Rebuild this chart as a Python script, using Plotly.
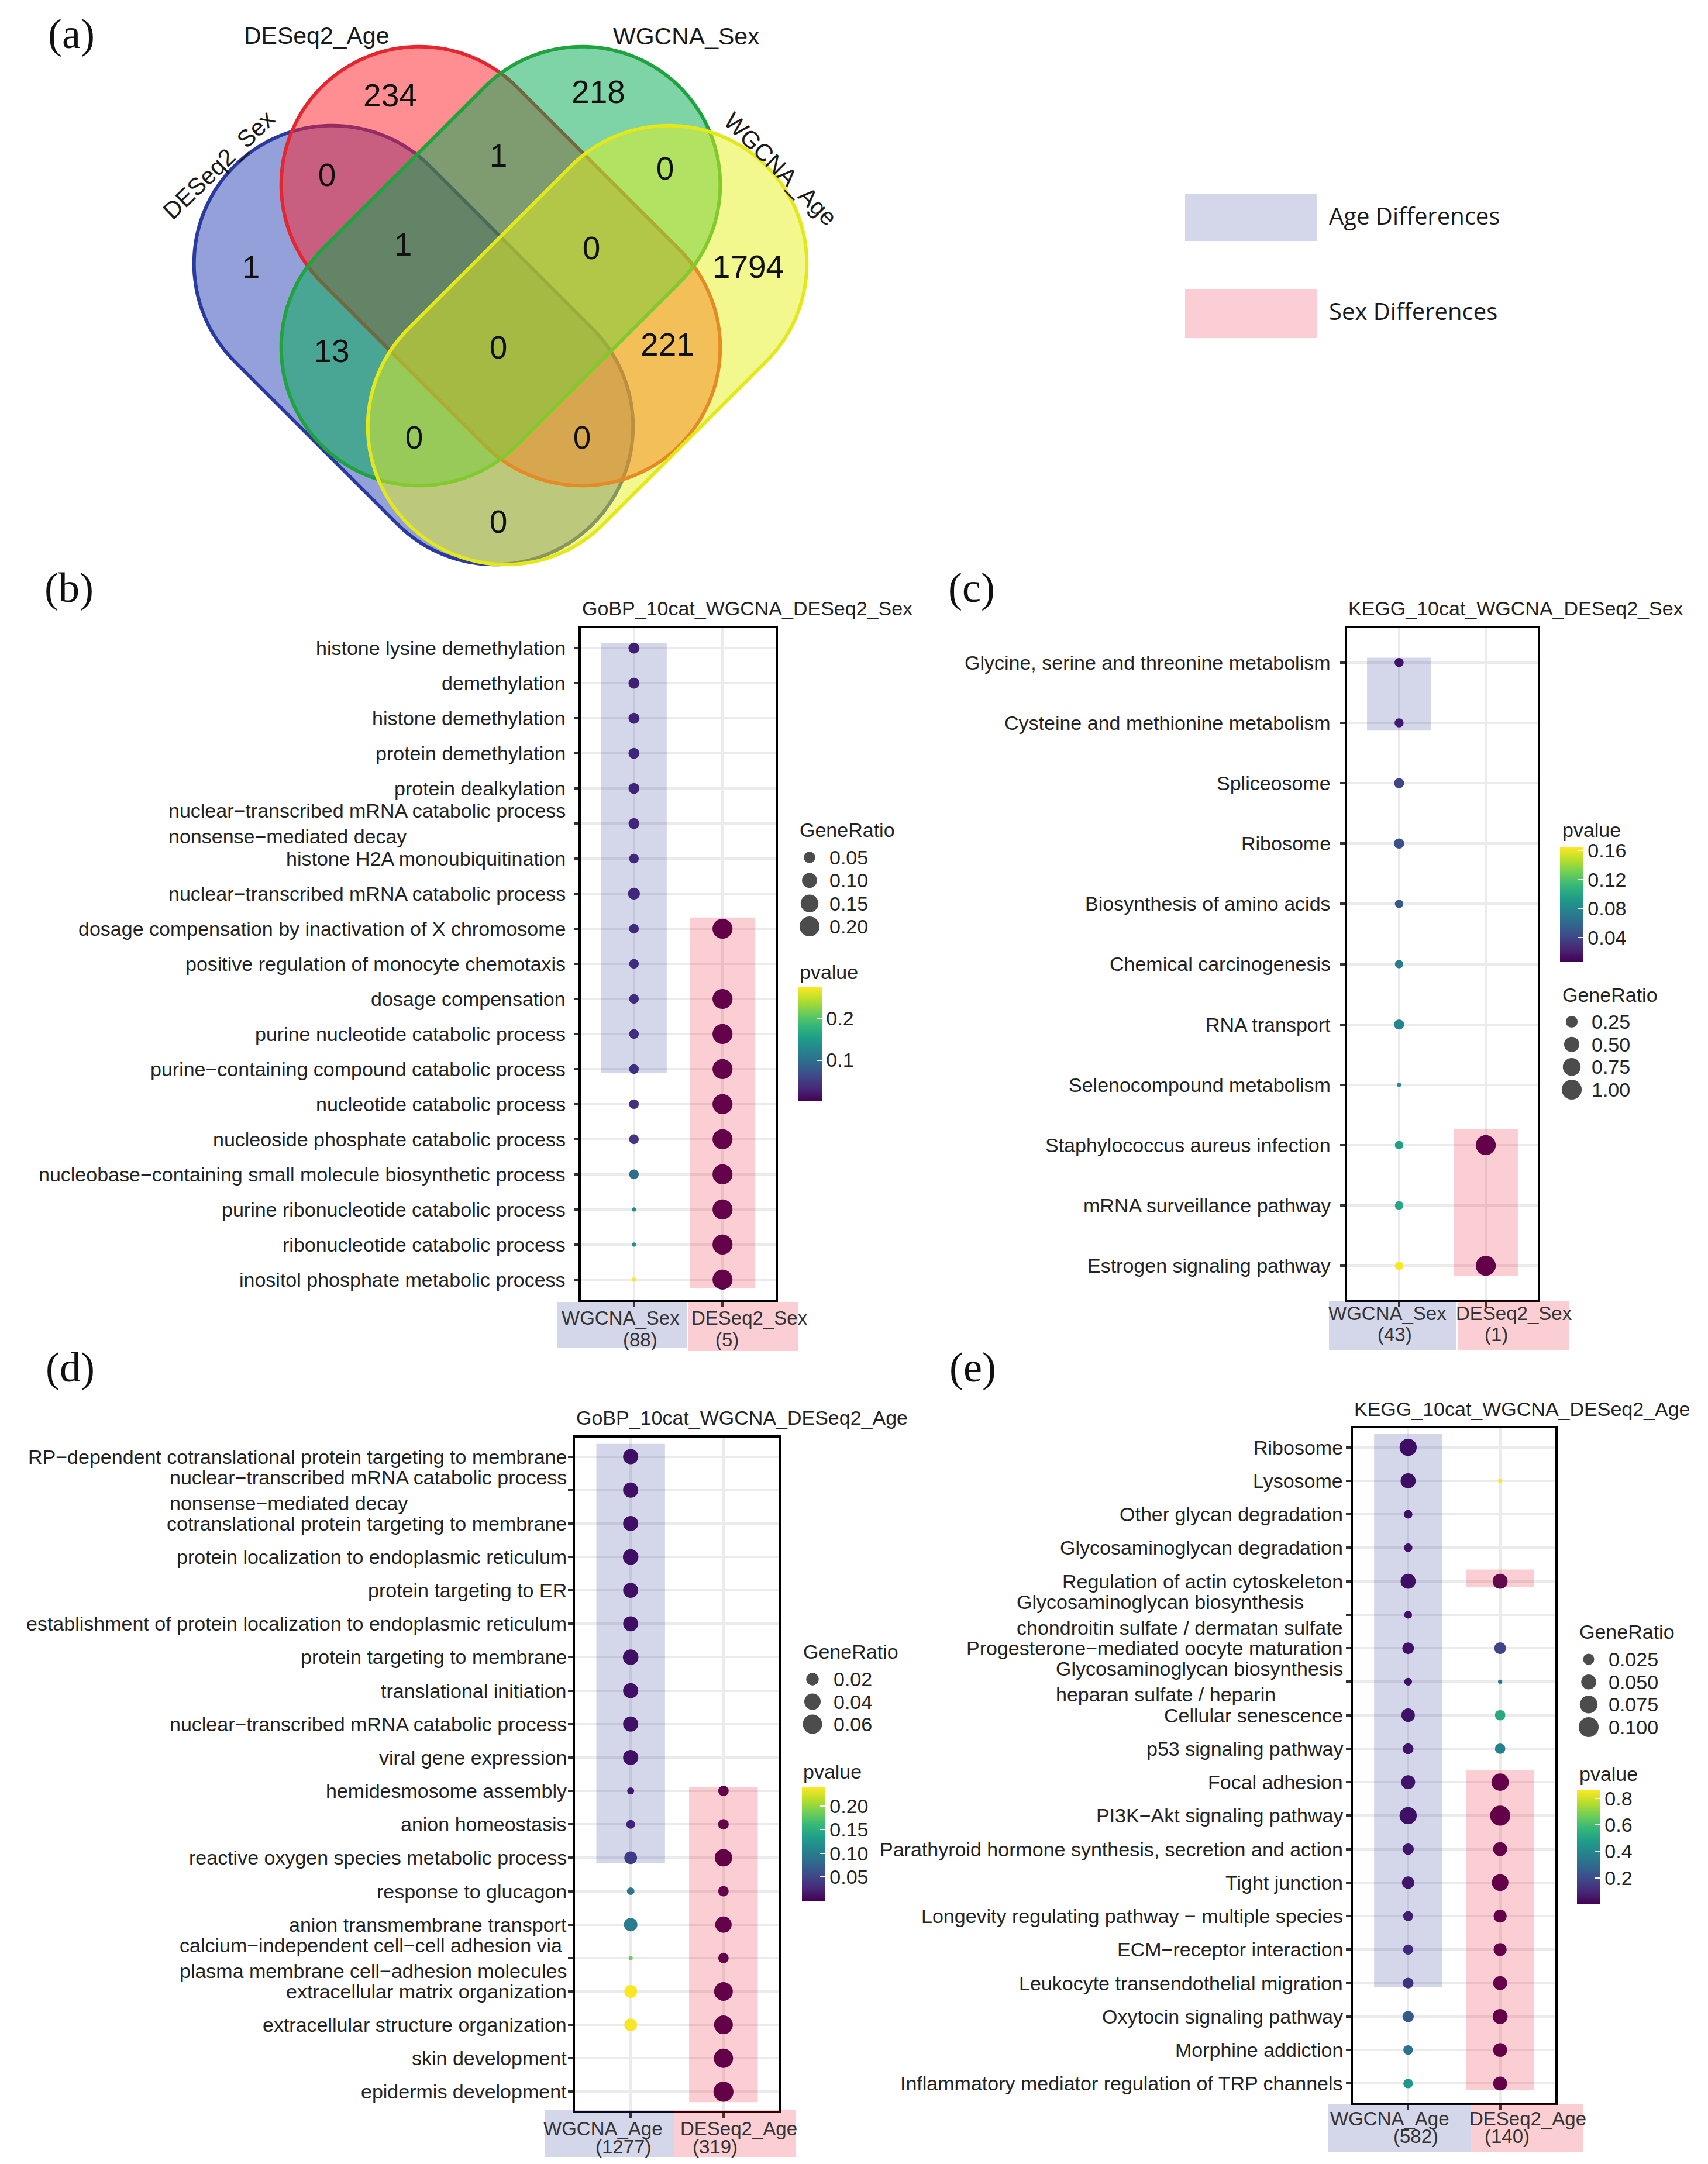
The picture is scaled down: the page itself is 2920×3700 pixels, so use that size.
import numpy as np
import plotly.graph_objects as go

W, H = 2920, 3700
SANS = "Liberation Sans"

# ======================= DATA =======================
# (a) Venn diagram
venn_set_names = ["DESeq2_Sex", "DESeq2_Age", "WGCNA_Sex", "WGCNA_Age"]
venn_regions = ["DA", "WS", "DS&DA", "DA&WS", "WS&WA", "DS", "DS&DA&WS", "DA&WS&WA",
                "WA", "DS&WS", "DS&DA&WS&WA", "DA&WA", "DS&WS&WA", "DS&DA&WA", "DS&WA"]
venn_counts = [234, 218, 0, 1, 0, 1, 1, 0, 1794, 13, 0, 221, 0, 0, 0]
legend_a_labels = ["Age Differences", "Sex Differences"]

# (b) GO BP, sex
b_title = "GoBP_10cat_WGCNA_DESeq2_Sex"
b_groups = ["WGCNA_Sex", "DESeq2_Sex"]
b_group_n = [88, 5]
b_terms = [
    "histone lysine demethylation", "demethylation", "histone demethylation",
    "protein demethylation", "protein dealkylation",
    "nuclear\u2212transcribed mRNA catabolic process<br>nonsense\u2212mediated decay",
    "histone H2A monoubiquitination", "nuclear\u2212transcribed mRNA catabolic process",
    "dosage compensation by inactivation of X chromosome",
    "positive regulation of monocyte chemotaxis", "dosage compensation",
    "purine nucleotide catabolic process", "purine\u2212containing compound catabolic process",
    "nucleotide catabolic process", "nucleoside phosphate catabolic process",
    "nucleobase\u2212containing small molecule biosynthetic process",
    "purine ribonucleotide catabolic process", "ribonucleotide catabolic process",
    "inositol phosphate metabolic process"]
b_wgcna_ratio = [0.0455, 0.0455, 0.0455, 0.0455, 0.0455, 0.0455, 0.0341, 0.0568, 0.0341, 0.0341,
                 0.0341, 0.0341, 0.0341, 0.0341, 0.0341, 0.0341, 0.0114, 0.0114, 0.0114]
b_wgcna_p = [0.020, 0.022, 0.024, 0.026, 0.026, 0.028, 0.030, 0.030, 0.032, 0.034,
             0.034, 0.036, 0.036, 0.040, 0.042, 0.100, 0.135, 0.140, 0.275]
b_deseq_ratio = [None] * 8 + [0.2, None] + [0.2] * 9
b_deseq_p = [None] * 8 + [0.0009, None, 0.0011, 0.0013, 0.0013, 0.0015, 0.0015, 0.0017,
                          0.0019, 0.0019, 0.0021]
b_bands = [("WGCNA_Sex", "histone lysine demethylation", "purine\u2212containing compound catabolic process"),
           ("DESeq2_Sex", "dosage compensation by inactivation of X chromosome", "inositol phosphate metabolic process")]
b_size_breaks = [0.05, 0.10, 0.15, 0.20]
b_size_labels = ["0.05", "0.10", "0.15", "0.20"]
b_p_ticks = [0.1, 0.2]
b_p_labels = ["0.1", "0.2"]

# (c) KEGG, sex
c_title = "KEGG_10cat_WGCNA_DESeq2_Sex"
c_groups = ["WGCNA_Sex", "DESeq2_Sex"]
c_group_n = [43, 1]
c_terms = ["Glycine, serine and threonine metabolism", "Cysteine and methionine metabolism",
           "Spliceosome", "Ribosome", "Biosynthesis of amino acids", "Chemical carcinogenesis",
           "RNA transport", "Selenocompound metabolism", "Staphylococcus aureus infection",
           "mRNA surveillance pathway", "Estrogen signaling pathway"]
c_wgcna_ratio = [0.116, 0.116, 0.163, 0.163, 0.093, 0.093, 0.163, 0.0233, 0.093, 0.093, 0.093]
c_wgcna_p = [0.012, 0.016, 0.040, 0.046, 0.050, 0.072, 0.078, 0.085, 0.095, 0.100, 0.164]
c_deseq_ratio = [None] * 8 + [1.0, None, 1.0]
c_deseq_p = [None] * 8 + [0.0070, None, 0.0072]
c_bands = [("WGCNA_Sex", "Glycine, serine and threonine metabolism", "Cysteine and methionine metabolism"),
           ("DESeq2_Sex", "Staphylococcus aureus infection", "Estrogen signaling pathway")]
c_size_breaks = [0.25, 0.50, 0.75, 1.00]
c_size_labels = ["0.25", "0.50", "0.75", "1.00"]
c_p_ticks = [0.04, 0.08, 0.12, 0.16]
c_p_labels = ["0.04", "0.08", "0.12", "0.16"]

# (d) GO BP, age
d_title = "GoBP_10cat_WGCNA_DESeq2_Age"
d_groups = ["WGCNA_Age", "DESeq2_Age"]
d_group_n = [1277, 319]
d_terms = [
    "RP\u2212dependent cotranslational protein targeting to membrane",
    "nuclear\u2212transcribed mRNA catabolic process<br>nonsense\u2212mediated decay",
    "cotranslational protein targeting to membrane",
    "protein localization to endoplasmic reticulum", "protein targeting to ER",
    "establishment of protein localization to endoplasmic reticulum",
    "protein targeting to membrane", "translational initiation",
    "nuclear\u2212transcribed mRNA catabolic process", "viral gene expression",
    "hemidesmosome assembly", "anion homeostasis", "reactive oxygen species metabolic process",
    "response to glucagon", "anion transmembrane transport",
    "calcium\u2212independent cell\u2212cell adhesion via<br>plasma membrane cell\u2212adhesion molecules",
    "extracellular matrix organization", "extracellular structure organization",
    "skin development", "epidermis development"]
d_wgcna_ratio = [0.033, 0.033, 0.033, 0.035, 0.032, 0.032, 0.035, 0.033, 0.033, 0.033,
                 0.0043, 0.0076, 0.021, 0.0052, 0.024, 0.0023, 0.021, 0.021, None, None]
d_wgcna_p = [0.004, 0.004, 0.004, 0.004, 0.004, 0.004, 0.004, 0.005, 0.005, 0.005,
             0.012, 0.020, 0.045, 0.095, 0.100, 0.185, 0.239, 0.236, None, None]
d_deseq_ratio = [None] * 10 + [0.0125, 0.0125, 0.047, 0.0125, 0.040, 0.0125, 0.056, 0.056, 0.060, 0.066]
d_deseq_p = [None] * 10 + [0.0010, 0.0012, 0.0004, 0.0015, 0.0005, 0.0016, 0.0002, 0.0002, 0.0001, 0.0001]
d_bands = [("WGCNA_Age", "RP\u2212dependent cotranslational protein targeting to membrane",
            "reactive oxygen species metabolic process"),
           ("DESeq2_Age", "hemidesmosome assembly", "epidermis development")]
d_size_breaks = [0.02, 0.04, 0.06]
d_size_labels = ["0.02", "0.04", "0.06"]
d_p_ticks = [0.05, 0.10, 0.15, 0.20]
d_p_labels = ["0.05", "0.10", "0.15", "0.20"]

# (e) KEGG, age
e_title = "KEGG_10cat_WGCNA_DESeq2_Age"
e_groups = ["WGCNA_Age", "DESeq2_Age"]
e_group_n = [582, 140]
e_terms = ["Ribosome", "Lysosome", "Other glycan degradation", "Glycosaminoglycan degradation",
           "Regulation of actin cytoskeleton",
           "Glycosaminoglycan biosynthesis<br>chondroitin sulfate / dermatan sulfate",
           "Progesterone\u2212mediated oocyte maturation",
           "Glycosaminoglycan biosynthesis<br>heparan sulfate / heparin",
           "Cellular senescence", "p53 signaling pathway", "Focal adhesion",
           "PI3K\u2212Akt signaling pathway",
           "Parathyroid hormone synthesis, secretion and action", "Tight junction",
           "Longevity regulating pathway \u2212 multiple species", "ECM\u2212receptor interaction",
           "Leukocyte transendothelial migration", "Oxytocin signaling pathway",
           "Morphine addiction", "Inflammatory mediator regulation of TRP channels"]
e_wgcna_ratio = [0.069, 0.051, 0.014, 0.014, 0.051, 0.012, 0.028, 0.012, 0.039, 0.023,
                 0.043, 0.070, 0.026, 0.032, 0.020, 0.020, 0.023, 0.026, 0.018, 0.018]
e_wgcna_p = [0.005, 0.010, 0.020, 0.020, 0.015, 0.020, 0.025, 0.020, 0.025, 0.030,
             0.030, 0.020, 0.035, 0.035, 0.060, 0.100, 0.130, 0.240, 0.330, 0.450]
e_deseq_ratio = [None, 0.0071, None, None, 0.050, None, 0.0286, 0.0071, 0.0214, 0.0214,
                 0.0714, 0.100, 0.0429, 0.0643, 0.0357, 0.0357, 0.0429, 0.050, 0.0429, 0.0429]
e_deseq_p = [None, 0.86, None, None, 0.020, None, 0.180, 0.330, 0.520, 0.380,
             0.002, 0.001, 0.003, 0.002, 0.004, 0.004, 0.003, 0.002, 0.003, 0.003]
e_bands = [("WGCNA_Age", "Ribosome", "Leukocyte transendothelial migration"),
           ("DESeq2_Age", "Regulation of actin cytoskeleton", "Regulation of actin cytoskeleton"),
           ("DESeq2_Age", "Focal adhesion", "Inflammatory mediator regulation of TRP channels")]
e_size_breaks = [0.025, 0.050, 0.075, 0.100]
e_size_labels = ["0.025", "0.050", "0.075", "0.100"]
e_p_ticks = [0.2, 0.4, 0.6, 0.8]
e_p_labels = ["0.2", "0.4", "0.6", "0.8"]

# ======================= LAYOUT / STYLE =======================
def X(px):
    return px / W


def Y(py):
    return 1 - py / H


fig = go.Figure()
layout = dict(width=W, height=H, margin=dict(l=0, r=0, t=0, b=0, pad=0),
              paper_bgcolor="white", plot_bgcolor="white", showlegend=False)
shapes, annotations = [], []

# ---------- (a) Venn ----------
venn_geom = {  # centre x, centre y, half straight length, cap radius, angle (screen px)
    "DESeq2_Sex": (699, 582, 197, 236, 45),
    "DESeq2_Age": (848, 447, 197, 236, 45),
    "WGCNA_Sex": (848, 447, 197, 236, -45),
    "WGCNA_Age": (996, 582, 197, 236, -45),
}
venn_fill = {"DESeq2_Sex": "rgba(40,65,180,0.5)", "DESeq2_Age": "rgba(255,30,40,0.5)",
             "WGCNA_Sex": "rgba(0,170,80,0.5)", "WGCNA_Age": "rgba(230,240,30,0.5)"}
venn_line = {"DESeq2_Sex": "#2A3A9E", "DESeq2_Age": "#E5262E",
             "WGCNA_Sex": "#1FA33D", "WGCNA_Age": "#E3E81A"}
venn_region_pos = {
    "DA": (659, 160), "WS": (1015, 154), "DS&DA": (551, 296), "DA&WS": (844, 263),
    "WS&WA": (1129, 285), "DS": (421, 454), "DS&DA&WS": (681, 415), "DA&WS&WA": (1003, 421),
    "WA": (1271, 453), "DS&WS": (559, 597), "DS&DA&WS&WA": (844, 591), "DA&WA": (1133, 586),
    "DS&WS&WA": (700, 745), "DS&DA&WA": (987, 745), "DS&WA": (844, 889)}
venn_label_pos = {"DESeq2_Sex": (366, 274, -44), "DESeq2_Age": (533, 53, 0),
                  "WGCNA_Sex": (1165, 54, 0), "WGCNA_Age": (1326, 281, 45)}

layout["xaxis"] = dict(domain=[0, X(1460)], range=[0, 1460], visible=False, anchor="y", fixedrange=True)
layout["yaxis"] = dict(domain=[Y(1000), 1], range=[1000, 0], visible=False, anchor="x", fixedrange=True)


def capsule_path(cx, cy, half_len, r, ang, n=90):
    th = np.radians(ang)
    u = np.array([np.cos(th), np.sin(th)])
    v = np.array([-np.sin(th), np.cos(th)])
    c = np.array([cx, cy], dtype=float)
    pts = []
    for sign, phis in ((1, np.linspace(-np.pi / 2, np.pi / 2, n)),
                       (-1, np.linspace(np.pi / 2, 3 * np.pi / 2, n))):
        cc = c + sign * half_len * u
        for f in phis:
            pts.append(cc + r * (np.cos(f) * u + np.sin(f) * v))
    return "M " + " L ".join(f"{p[0]:.1f},{p[1]:.1f}" for p in pts) + " Z"


for s in venn_set_names:
    cx, cy, hl, r, ang = venn_geom[s]
    shapes.append(dict(type="path", xref="x", yref="y", path=capsule_path(cx, cy, hl, r, ang),
                       fillcolor=venn_fill[s], line=dict(color=venn_line[s], width=6), layer="below"))
    lx, ly, la = venn_label_pos[s]
    annotations.append(dict(xref="x", yref="y", x=lx, y=ly, text=s, showarrow=False, textangle=la,
                            xanchor="center", yanchor="middle",
                            font=dict(family=SANS, size=41, color="#1a1a1a")))

fig.add_trace(go.Scatter(
    x=[venn_region_pos[r][0] for r in venn_regions],
    y=[venn_region_pos[r][1] for r in venn_regions],
    text=[str(c) for c in venn_counts], mode="text", textposition="middle center",
    textfont=dict(family=SANS, size=55, color="#111111"), xaxis="x", yaxis="y", hoverinfo="skip"))

# legend of panel (a)
leg_a_boxes = [(2018, 2243, 324, 404, "#D4D6EA", 360), (2018, 2243, 486, 570, "#FACED4", 523)]
for (x0, x1, y0, y1, col, ty), lab in zip(leg_a_boxes, legend_a_labels):
    shapes.append(dict(type="rect", xref="paper", yref="paper", x0=X(x0), x1=X(x1), y0=Y(y1), y1=Y(y0),
                       fillcolor=col, line=dict(width=0), layer="below"))
    annotations.append(dict(xref="paper", yref="paper", x=X(2262), y=Y(ty), text=lab, showarrow=False,
                            xanchor="left", yanchor="middle",
                            font=dict(family="Open Sans", size=40, color="#1a1a1a")))

# panel letters
for lab, (px, py) in {"(a)": (114, 50), "(b)": (110, 997), "(c)": (1653, 997),
                      "(d)": (112, 2330), "(e)": (1655, 2330)}.items():
    annotations.append(dict(xref="paper", yref="paper", x=X(px), y=Y(py), text=lab, showarrow=False,
                            xanchor="center", yanchor="middle",
                            font=dict(family="Liberation Serif", size=72, color="#111111")))

# ---------- dot plot panels ----------
LAV = "rgba(40,50,150,0.2)"
PINK = "rgba(230,10,30,0.2)"

panels = [
    dict(title=b_title, groups=b_groups, n=b_group_n, terms=b_terms,
         ratio=[b_wgcna_ratio, b_deseq_ratio], p=[b_wgcna_p, b_deseq_p], bands=b_bands,
         sbreaks=b_size_breaks, slabels=b_size_labels, pticks=b_p_ticks, plabels=b_p_labels),
    dict(title=c_title, groups=c_groups, n=c_group_n, terms=c_terms,
         ratio=[c_wgcna_ratio, c_deseq_ratio], p=[c_wgcna_p, c_deseq_p], bands=c_bands,
         sbreaks=c_size_breaks, slabels=c_size_labels, pticks=c_p_ticks, plabels=c_p_labels),
    dict(title=d_title, groups=d_groups, n=d_group_n, terms=d_terms,
         ratio=[d_wgcna_ratio, d_deseq_ratio], p=[d_wgcna_p, d_deseq_p], bands=d_bands,
         sbreaks=d_size_breaks, slabels=d_size_labels, pticks=d_p_ticks, plabels=d_p_labels),
    dict(title=e_title, groups=e_groups, n=e_group_n, terms=e_terms,
         ratio=[e_wgcna_ratio, e_deseq_ratio], p=[e_wgcna_p, e_deseq_p], bands=e_bands,
         sbreaks=e_size_breaks, slabels=e_size_labels, pticks=e_p_ticks, plabels=e_p_labels),
]

styles = [
    dict(box=(985, 1318, 1066, 2214), title_y=1032, gap=24,
         sz_title=(1357, 1411), sz_x=1376, sz_y=(1458, 1576), sz_lab=1408,
         p_title=(1357, 1654), cb=(1357, 1680, 195),
         xl1=(2245, [1053, 1273]), xl2=(2282, [1086, 1235]),
         over=[(945, 1167, 2218, 2297, LAV), (1168, 1357, 2218, 2302, PINK)],
         pads=[(0.15, 0.10), (0.32, 0.25)]),
    dict(box=(2295, 2621, 1066, 2215), title_y=1032, gap=26,
         sz_title=(2661, 1693), sz_x=2679, sz_y=(1739, 1855), sz_lab=2711,
         p_title=(2661, 1411), cb=(2659, 1441, 195),
         xl1=(2237, [2364, 2580]), xl2=(2273, [2376, 2550]),
         over=[(2264, 2482, 2217, 2300, LAV), (2484, 2674, 2217, 2300, PINK)],
         pads=[(0.08, 0.13), (0.26, 0.17)]),
    dict(box=(975, 1324, 2450, 3601), title_y=2416, gap=12,
         sz_title=(1363, 2816), sz_x=1381, sz_y=(2863, 2940), sz_lab=1415,
         p_title=(1363, 3021), cb=(1363, 3048, 194),
         xl1=(3631, [1023, 1255]), xl2=(3662, [1057, 1214]),
         over=[(923, 1144, 3599, 3680, LAV), (1144, 1353, 3599, 3680, PINK)],
         pads=[(0.38, 0.17), (0.12, 0.31)]),
    dict(box=(2305, 2651, 2434, 3587), title_y=2401, gap=15,
         sz_title=(2690, 2782), sz_x=2708, sz_y=(2829, 2945), sz_lab=2740,
         p_title=(2690, 3025), cb=(2688, 3053, 195),
         xl1=(3614, [2368, 2604]), xl2=(3644, [2412, 2568]),
         over=[(2262, 2506, 3590, 3671, LAV), (2506, 2698, 3590, 3671, PINK)],
         pads=[(0.40, 0.12), (0.35, 0.17), (0.37, 0.19)]),
]

TXT = "#222222"


def diam(v, vmin, vmax):
    frac = np.clip((np.asarray(v, dtype=float) - vmin) / (vmax - vmin), 0, None)
    return 1.8 + 5.4 * (1 + 5 * np.sqrt(frac))


axis_common = dict(showline=True, mirror=True, linecolor="black", linewidth=3.5,
                   showgrid=True, gridcolor="#EBEBEB", gridwidth=4, zeroline=False,
                   ticks="outside", ticklen=8, tickwidth=3.5, tickcolor="#333333",
                   showticklabels=False, fixedrange=True, type="category", categoryorder="array")

for k, (d, st) in enumerate(zip(panels, styles)):
    i = k + 2
    xr, yr = f"x{i}", f"y{i}"
    bx0, bx1, by0, by1 = st["box"]
    terms, groups = d["terms"], d["groups"]
    n = len(terms)
    layout[f"xaxis{i}"] = dict(axis_common, domain=[X(bx0), X(bx1)], anchor=yr,
                               categoryarray=groups, range=[-0.6, 1.6])
    layout[f"yaxis{i}"] = dict(axis_common, domain=[Y(by1), Y(by0)], anchor=xr,
                               categoryarray=terms, range=[n - 1 + 0.57, -0.57])

    xs, ys, rs, ps = [], [], [], []
    for g, rarr, parr in zip(groups, d["ratio"], d["p"]):
        for t, r, p in zip(terms, rarr, parr):
            if r is None:
                continue
            xs.append(g); ys.append(t); rs.append(r); ps.append(p)
    vmin, vmax = min(rs), max(rs)
    pmin, pmax = min(ps), max(ps)
    cbx, cbtop, cblen = st["cb"]
    fig.add_trace(go.Scatter(
        x=xs, y=ys, mode="markers", xaxis=xr, yaxis=yr, hoverinfo="skip",
        marker=dict(size=diam(rs, vmin, vmax), color=ps, colorscale="Viridis", cmin=pmin, cmax=pmax,
                    line=dict(width=0), opacity=1, showscale=True,
                    colorbar=dict(x=X(cbx), xanchor="left", y=Y(cbtop), yanchor="top",
                                  len=cblen, lenmode="pixels", thickness=40, thicknessmode="pixels",
                                  xpad=0, ypad=0, outlinewidth=0, tickvals=d["pticks"],
                                  ticktext=d["plabels"], ticks="inside", tickcolor="white",
                                  ticklen=9, tickwidth=2,
                                  tickfont=dict(family=SANS, size=34, color=TXT)))))

    # highlight bands (drawn over the points, semi-transparent)
    for (g, t0, t1), (pt, pb) in zip(d["bands"], st["pads"]):
        gi = groups.index(g)
        shapes.append(dict(type="rect", xref=xr, yref=yr, x0=gi - 0.37, x1=gi + 0.37,
                           y0=terms.index(t0) - pt, y1=terms.index(t1) + pb,
                           fillcolor=LAV if gi == 0 else PINK, line=dict(width=0), layer="above"))

    # y tick labels (left-aligned multi-line blocks, right-aligned to the axis)
    for j, t in enumerate(terms):
        annotations.append(dict(xref="paper", yref=yr, x=X(bx0 - st["gap"]), y=j, text=t,
                                showarrow=False, xanchor="right", yanchor="middle", align="left",
                                font=dict(family=SANS, size=34, color=TXT)))

    # title
    annotations.append(dict(xref="paper", yref="paper", x=X(bx0), y=Y(st["title_y"]), text=d["title"],
                            showarrow=False, xanchor="left", yanchor="middle",
                            font=dict(family=SANS, size=34, color=TXT)))

    # x labels (two lines) + coloured label boxes
    y1, xs1 = st["xl1"]
    y2, xs2 = st["xl2"]
    for g, cnt, a1, a2 in zip(groups, d["n"], xs1, xs2):
        annotations.append(dict(xref="paper", yref="paper", x=X(a1), y=Y(y1), text=g, showarrow=False,
                                xanchor="center", yanchor="middle",
                                font=dict(family=SANS, size=33, color="#333333")))
        annotations.append(dict(xref="paper", yref="paper", x=X(a2), y=Y(y2), text=f"({cnt})",
                                showarrow=False, xanchor="center", yanchor="middle",
                                font=dict(family=SANS, size=33, color="#333333")))
    for (x0, x1, yy0, yy1, col) in st["over"]:
        shapes.append(dict(type="rect", xref="paper", yref="paper", x0=X(x0), x1=X(x1),
                           y0=Y(yy1), y1=Y(yy0), fillcolor=col, line=dict(width=0), layer="above"))

    # size legend
    li = i + 4
    sb = d["sbreaks"]
    nb = len(sb)
    s0, s1 = st["sz_y"]
    sp = (s1 - s0) / (nb - 1)
    layout[f"xaxis{li}"] = dict(domain=[X(st["sz_x"] - 25), X(st["sz_x"] + 25)], range=[-1, 1],
                                visible=False, anchor=f"y{li}", fixedrange=True)
    layout[f"yaxis{li}"] = dict(domain=[Y(s1 + sp / 2), Y(s0 - sp / 2)], range=[nb - 0.5, -0.5],
                                visible=False, anchor=f"x{li}", fixedrange=True)
    fig.add_trace(go.Scatter(x=[0] * nb, y=list(range(nb)), mode="markers", xaxis=f"x{li}",
                             yaxis=f"y{li}", hoverinfo="skip",
                             marker=dict(size=diam(sb, vmin, vmax), color="black", line=dict(width=0))))
    for j, lab in enumerate(d["slabels"]):
        annotations.append(dict(xref="paper", yref=f"y{li}", x=X(st["sz_lab"]), y=j, text=lab,
                                showarrow=False, xanchor="left", yanchor="middle",
                                font=dict(family=SANS, size=34, color=TXT)))
    annotations.append(dict(xref="paper", yref="paper", x=X(st["sz_title"][0]), y=Y(st["sz_title"][1]),
                            text="GeneRatio", showarrow=False, xanchor="left", yanchor="middle",
                            font=dict(family=SANS, size=34, color=TXT)))
    annotations.append(dict(xref="paper", yref="paper", x=X(st["p_title"][0]), y=Y(st["p_title"][1]),
                            text="pvalue", showarrow=False, xanchor="left", yanchor="middle",
                            font=dict(family=SANS, size=34, color=TXT)))

layout["shapes"] = shapes
layout["annotations"] = annotations
fig.update_layout(**layout)
fig.write_html("out.html")
